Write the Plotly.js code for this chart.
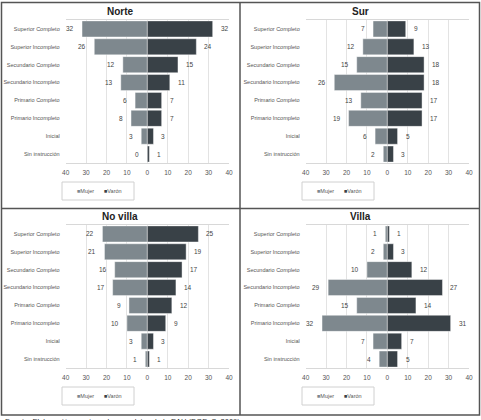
<!DOCTYPE html>
<html>
<head>
<meta charset="utf-8">
<script src="https://cdn.plot.ly/plotly-3.0.1.min.js"></script>
<style>html,body{margin:0;padding:0;background:#fff;}#chart{width:481px;height:420px;}</style>
</head>
<body>
<div id="chart"></div>
<script>
const categories = ['Superior Completo','Superior Incompleto','Secundario Completo','Secundario Incompleto','Primario Completo','Primario Incompleto','Inicial','Sin instrucción'];
const panelTitles = ['Norte','Sur','No villa','Villa'];
const seriesNames = ['Mujer','Varón'];
const norteMujer = [32,26,12,13,6,8,3,0];
const norteVaron = [32,24,15,11,7,7,3,1];
const surMujer = [7,12,15,26,13,19,6,2];
const surVaron = [9,13,18,18,17,17,5,3];
const noVillaMujer = [22,21,16,17,9,10,3,1];
const noVillaVaron = [25,19,17,14,12,9,3,1];
const villaMujer = [1,2,10,29,15,32,7,4];
const villaVaron = [1,3,12,27,14,31,7,5];
const tickVals = [-40,-30,-20,-10,0,10,20,30,40];
const tickText = ['40','30','20','10','0','10','20','30','40'];
const footnote = 'Fuente: Elaboración propia en base a datos de la EAH (DGEyC, 2009).';

const W = 481, H = 420;
const colMujer = '#7e888e', colVaron = '#394147';
const FONT = 'Liberation Sans, Arial, sans-serif';
const panels = [
  {m: norteMujer, v: norteVaron, x0: 0, y0: 0},
  {m: surMujer, v: surVaron, x0: 240, y0: 0},
  {m: noVillaMujer, v: noVillaVaron, x0: 0, y0: 205},
  {m: villaMujer, v: villaVaron, x0: 240, y0: 205}
];
const px = x => x / W;
const py = y => 1 - y / H;

const data = [], annotations = [], shapes = [];
const layout = {
  width: W, height: H, margin: {l:0, r:0, t:0, b:0},
  paper_bgcolor: '#fff', plot_bgcolor: '#fff',
  barmode: 'relative', bargap: 0.1, showlegend: false,
  font: {family: FONT, size: 6, color: '#444'}
};

panels.forEach((p, i) => {
  const k = i === 0 ? '' : String(i + 1);
  const xa = 'x' + k, ya = 'y' + k;
  const top = p.y0 + 20, bottom = p.y0 + 163;
  const left = p.x0 + 65.7, right = p.x0 + 229;
  layout['xaxis' + k] = {
    domain: [px(left), px(right)], anchor: ya, range: [-40, 40],
    tickvals: tickVals, ticktext: tickText, showgrid: true, gridcolor: '#e3e3e3', gridwidth: 1,
    zeroline: false, showline: true, mirror: true, linecolor: '#d8d8d8', linewidth: 1,
    ticks: '', ticklabelstandoff: 3, tickfont: {size: 6.5, color: '#555', family: FONT}, fixedrange: true
  };
  layout['yaxis' + k] = {
    domain: [py(bottom), py(top)], anchor: xa, type: 'category',
    categoryorder: 'array', categoryarray: categories, autorange: 'reversed',
    showgrid: false, zeroline: false, showline: false, ticks: '', ticklabelstandoff: 5,
    tickfont: {size: 5.5, color: '#555', family: FONT}, fixedrange: true
  };
  data.push({
    type: 'bar', orientation: 'h', name: seriesNames[0], y: categories,
    x: p.m.map(v => -v), xaxis: xa, yaxis: ya,
    marker: {color: colMujer, line: {color: 'rgba(255,255,255,0.7)', width: 0.6}},
    hoverinfo: 'skip'
  });
  data.push({
    type: 'bar', orientation: 'h', name: seriesNames[1], y: categories,
    x: p.v, xaxis: xa, yaxis: ya,
    marker: {color: colVaron, line: {color: 'rgba(255,255,255,0.7)', width: 0.6}},
    hoverinfo: 'skip'
  });
  categories.forEach((c, j) => {
    annotations.push({xref: xa, yref: ya, x: -p.m[j], y: c, text: String(p.m[j]),
      xanchor: 'right', xshift: -6, showarrow: false, font: {size: 6.5, color: '#444', family: FONT}});
    annotations.push({xref: xa, yref: ya, x: p.v[j], y: c, text: String(p.v[j]),
      xanchor: 'left', xshift: 6, showarrow: false, font: {size: 6.5, color: '#444', family: FONT}});
  });
  annotations.push({xref: 'paper', yref: 'paper', x: px(p.x0 + 120), y: py(p.y0 + 11.5),
    text: '<b>' + panelTitles[i] + '</b>', showarrow: false, xanchor: 'center', yanchor: 'middle',
    font: {size: 10, color: '#222', family: FONT}});
  shapes.push({type: 'rect', xref: 'paper', yref: 'paper', x0: px(p.x0 + 62), x1: px(p.x0 + 134),
    y0: py(p.y0 + 200), y1: py(p.y0 + 182), line: {color: '#d0d0d0', width: 1}, fillcolor: 'rgba(0,0,0,0)'});
  annotations.push({xref: 'paper', yref: 'paper', x: px(p.x0 + 85), y: py(p.y0 + 191),
    text: '<span style="color:' + colMujer + '">■</span>' + seriesNames[0], showarrow: false,
    xanchor: 'center', yanchor: 'middle', font: {size: 5.5, color: '#555', family: FONT}});
  annotations.push({xref: 'paper', yref: 'paper', x: px(p.x0 + 113), y: py(p.y0 + 191),
    text: '<span style="color:' + colVaron + '">■</span>' + seriesNames[1], showarrow: false,
    xanchor: 'center', yanchor: 'middle', font: {size: 5.5, color: '#555', family: FONT}});
});

const frameLine = {color: '#555', width: 1.5};
shapes.push({type: 'rect', xref: 'paper', yref: 'paper', x0: px(1.5), x1: px(479.5), y0: py(415), y1: py(2.5), line: frameLine});
shapes.push({type: 'line', xref: 'paper', yref: 'paper', x0: px(240), x1: px(240), y0: py(415), y1: py(2.5), line: frameLine});
shapes.push({type: 'line', xref: 'paper', yref: 'paper', x0: px(1.5), x1: px(479.5), y0: py(208.5), y1: py(208.5), line: frameLine});

annotations.push({xref: 'paper', yref: 'paper', x: px(3), y: py(421.5), text: footnote, showarrow: false,
  xanchor: 'left', yanchor: 'middle', font: {size: 7.5, color: '#333', family: FONT}});

layout.annotations = annotations;
layout.shapes = shapes;
Plotly.newPlot('chart', data, layout, {staticPlot: true, displayModeBar: false});
</script>
</body>
</html>
